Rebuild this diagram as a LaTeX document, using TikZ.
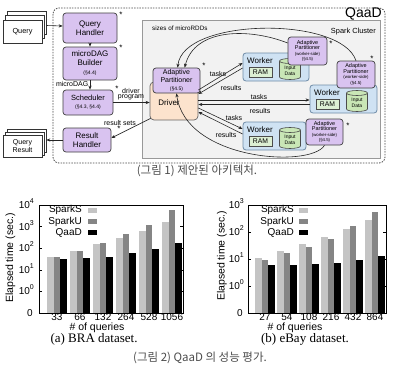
\documentclass[tikz,border=0pt]{standalone}
\usepackage{fontspec}
\setmainfont{Liberation Sans}
\newfontfamily\serifb{Liberation Serif}
\newfontfamily\kr{Noto Sans CJK KR}
\usetikzlibrary{arrows.meta,calc}
\newcommand{\fsz}[1]{\fontsize{#1}{#1}\selectfont}
\newcommand{\sups}[1]{\raisebox{0.5em}{\fsz{7}#1}}
\definecolor{purp}{HTML}{D9C3F0}
\definecolor{peach}{HTML}{FCE3CD}
\definecolor{wblue}{HTML}{CFE2F3}
\definecolor{wborder}{HTML}{6F8CA8}
\definecolor{ramg}{HTML}{DCEFD3}
\definecolor{cylg}{HTML}{C9E6B6}
\definecolor{clus}{HTML}{F2F2F2}
\definecolor{barS}{HTML}{C4C4C4}
\definecolor{barU}{HTML}{858585}
\tikzset{
 pbox/.style={draw=black!75, fill=purp, rounded corners=3pt, line width=0.7pt, inner sep=0pt, align=center},
 docb/.style={draw=black!80, fill=white, line width=0.6pt, inner sep=0pt, minimum width=39pt, minimum height=23pt},
 lbl/.style={font=\fsz{7}, inner sep=0pt},
 starn/.style={font=\fsz{8}, inner sep=0pt},
 arr/.style={-{Stealth[length=4pt,width=3.2pt]}, line width=0.6pt, draw=black!85},
 wbox/.style={draw=wborder, fill=wblue, rounded corners=3pt, line width=0.8pt, minimum height=28pt, inner sep=0pt},
 wtxt/.style={font=\fsz{8}, inner sep=0pt},
 ramb/.style={draw=black!70, fill=ramg, line width=0.6pt, minimum width=23pt, minimum height=9.5pt, inner sep=0pt, font=\fsz{6.8}},
 cyltxt/.style={inner sep=0pt, align=center, font=\fontsize{5}{5.5}\selectfont},
 cylline/.style={draw=black!70, line width=0.6pt},
 tickl/.style={font=\fsz{10}, inner sep=0pt},
 frm/.style={draw=black, line width=0.6pt},
}
\newcommand{\cyld}[3]{%
 \filldraw[cylline, fill=cylg] (#2,#3+8) ellipse [x radius=10.5pt, y radius=2.5pt];
 \fill[cylg] (#2-10.5,#3-8) rectangle (#2+10.5,#3+8);
 \draw[cylline] (#2-10.5,#3-8) -- (#2-10.5,#3+8) (#2+10.5,#3-8) -- (#2+10.5,#3+8);
 \filldraw[cylline, fill=cylg] (#2,#3-8) ellipse [x radius=10.5pt, y radius=2.5pt];
 \node[cyltxt] (#1) at (#2,#3+2) {Input\\Data};
}
\newcommand{\wkr}[4]{%
 \node[wbox, minimum width=#4 pt] (#1) at (#2+#4/2,#3+14) {};
 \node[wtxt] (#1t) at (#2+17,#3+7.5) {Worker};
 \node[ramb] (#1r) at (#2+17.5,#3+19.5) {RAM};
 \cyld{#1c}{#2+47}{#3+16}%
}
\begin{document}
\begin{tikzpicture}[x=1pt,y=-1pt]
\useasboundingbox (0,0) rectangle (400,372);
\fill[white] (0,0) rectangle (400,372);

% QaaD boundary and Spark cluster
\draw[black!70, line width=0.8pt, dash pattern=on 1.5pt off 1.2pt, rounded corners=6pt] (53,8) rectangle (385,163);
\node[font=\fsz{14}, inner sep=0pt, anchor=east] (qaad) at (382,14) {QaaD};
\node[draw=gray!80, fill=clus, line width=0.8pt, minimum width=238pt, minimum height=138pt, inner sep=0pt] (spark) at (261,89) {};
\node[font=\fsz{7.4}, inner sep=0pt, anchor=east] (sparkt) at (376,32) {Spark Cluster};
\node[font=\fsz{6.3}, inner sep=0pt, anchor=west] (sizes) at (152,28) {sizes of microRDDs};

% Query document stacks
\node[docb] (qb2) at (26.5,22.5) {};
\node[docb] (qb1) at (24.5,27) {};
\node[docb, font=\fsz{7.3}] (qd) at (22.5,31.5) {Query};
\node[docb] (qrb2) at (26.5,141) {};
\node[docb] (qrb1) at (24.5,143.5) {};
\node[docb, minimum height=22pt, align=center, font=\fontsize{7}{8}\selectfont] (qrd) at (22.5,146) {Query\\Result};

% Left column boxes
\node[pbox, minimum width=54pt, minimum height=30pt, font=\fontsize{8}{9.5}\selectfont] (qh) at (90,28) {Query\\Handler};
\node[pbox, minimum width=54pt, minimum height=33pt, font=\fontsize{8}{9}\selectfont] (mdb) at (90,63.5) {microDAG\\Builder\\{\fontsize{5}{6}\selectfont(§4.4)}};
\node[pbox, minimum width=50pt, minimum height=25pt, font=\fontsize{7.5}{8.5}\selectfont] (sch) at (88,102.5) {Scheduler\\{\fontsize{5}{6}\selectfont(§4.3, §4.4)}};
\node[pbox, minimum width=48pt, minimum height=24pt, font=\fontsize{8}{9}\selectfont] (rh) at (87,140) {Result\\Handler};
\node[starn] (st1) at (121,15) {*};
\node[starn] (st2) at (121,48) {*};
\node[starn] (st3) at (117,89) {*};
\node[starn] (st4) at (119,129) {*};

% Driver
\node[draw=black!60, fill=peach, rounded corners=4pt, line width=0.7pt, minimum width=48pt, minimum height=38pt, inner sep=0pt] (drv) at (174,101) {};
\node[font=\fsz{8}, inner sep=0pt] (drvt) at (169,102.5) {Driver};
\node[pbox, minimum width=47pt, minimum height=25pt, font=\fontsize{7}{7.6}\selectfont] (apd) at (176.5,80.5) {Adaptive\\Partitioner\\{\fontsize{5}{6}\selectfont(§4.5)}};
\node[starn] (st5) at (204,66) {*};

% Workers
\wkr{wa}{243}{53}{66}
\wkr{wb}{310}{85}{67}
\wkr{wc}{243}{122}{63}

% Worker-side partitioners
\node[pbox, minimum width=39pt, minimum height=28pt, font=\fontsize{5.5}{5.6}\selectfont] (apa) at (307.5,51) {Adaptive\\Partitioner\\{\fontsize{4.3}{5}\selectfont(worker-side)}\\{\fontsize{4.3}{5}\selectfont(§4.5)}};
\node[pbox, minimum width=38pt, minimum height=27pt, font=\fontsize{5.5}{5.6}\selectfont] (apb) at (356,74.5) {Adaptive\\Partitioner\\{\fontsize{4.3}{5}\selectfont(worker-side)}\\{\fontsize{4.3}{5}\selectfont(§4.5)}};
\node[pbox, minimum width=37pt, minimum height=26pt, font=\fontsize{5.5}{5.6}\selectfont] (apc) at (324.5,132) {Adaptive\\Partitioner\\{\fontsize{4.3}{5}\selectfont(worker-side)}\\{\fontsize{4.3}{5}\selectfont(§4.5)}};
\node[starn] (st6) at (331,44) {*};
\node[starn] (st7) at (372,59) {*};
\node[starn] (st8) at (348,126) {*};

% Left column arrows
\draw[arr] ($(qb2.east)+(0,3)$) -- ($(qh.west)+(0,-2)$);
\draw[arr] (qh) -- (mdb);
\draw[arr] (mdb.south) -- (mdb.south |- sch.north);
\node[lbl, anchor=east] (mdl) at (88.5,84) {microDAG};
\draw[arr] (sch.east) -- (sch.east -| drv.west);
\node[lbl] (dpl1) at (131,90.5) {driver};
\node[lbl] (dpl2) at (131,97.5) {program};
\draw[arr] ($(drv.south west)+(1,-2)$) -- ($(rh.east)+(0,-2)$);
\node[lbl] (rsl) at (120,123) {result sets};
\draw[arr] (rh.west) -- (rh.west -| qrb2.east);

% Driver-worker arrows
\draw[arr] ($(drv.east)+(0,-11)$) -- ($(wa.west)+(0,-4)$);
\draw[arr] ($(wa.west)+(0,1)$) -- ($(drv.east)+(0,-7)$);
\draw[arr] ($(drv.east)+(0,-1)$) -- ($(wb.west)+(0,1)$);
\draw[arr] ($(wb.west)+(0,5.5)$) -- ($(drv.east)+(0,3.5)$);
\draw[arr] ($(drv.east)+(0,7)$) -- ($(wc.west)+(0,-7)$);
\draw[arr] ($(wc.west)+(0,-2)$) -- ($(drv.east)+(0,11)$);
\node[lbl] (tl1) at (218,74) {tasks};
\node[lbl] (rl1) at (231,88) {results};
\node[lbl] (tl2) at (259,96.5) {tasks};
\node[lbl] (rl2) at (260,110.5) {results};
\node[lbl] (tl3) at (234,117.5) {tasks};
\node[lbl] (rl3) at (226,135) {results};

% microRDD size curves
\draw[arr] (apb.north) .. controls +(-15,-45) and +(5,-50) .. ($(apd.north west)+(25,0)$);
\draw[arr] ($(apa.west)+(0,-8)$) .. controls +(-38,-15) and +(10,-40) .. ($(apd.north west)+(32,0)$);
\draw[arr] (apc.south) .. controls +(-14,23) and +(9,67) .. (apd.south);

% ---------- Chart (a) ----------
\draw[frm] (39,205) rectangle (183,313);
\foreach \yy in {226.6,248.2,269.8,291.4} {\draw[frm] (39,\yy) -- ++(3,0); \draw[frm] (183,\yy) -- ++(-3,0);}
\node[tickl, anchor=base east] (ya4) at (34,208.5) {10\sups{4}};
\node[tickl, anchor=base east] (ya3) at (34,230.1) {10\sups{3}};
\node[tickl, anchor=base east] (ya2) at (34,251.7) {10\sups{2}};
\node[tickl, anchor=base east] (ya1) at (34,273.3) {10\sups{1}};
\node[tickl, anchor=base east] (ya0) at (34,294.9) {10\sups{0}};
\node[tickl, anchor=base east] (yaz) at (33,316.5) {0};
\foreach \i/\s/\u/\q/\l in {0/257/257/259/33, 1/251/251/258/66, 2/244/243/257/132, 3/237.7/234/253/264, 4/231/225/249/528, 5/221.7/210/243/1056} {
 \pgfmathsetmacro\cx{57+23*\i}
 \fill[barS] (\cx-10,313) rectangle (\cx-3.33,\s);
 \fill[barU] (\cx-3.33,313) rectangle (\cx+3.33,\u);
 \fill[black] (\cx+3.33,313) rectangle (\cx+10,\q);
 \node[tickl] at (\cx,317.5) {\l};
}
\node[tickl, anchor=east] (lsa) at (82,210) {SparkS};
\node[tickl, anchor=east] (lua) at (82,221.5) {SparkU};
\node[tickl, anchor=east] (lqa) at (82,232.5) {QaaD};
\fill[barS] (88,207.5) rectangle (97,212.5);
\fill[barU] (88,219) rectangle (97,224);
\fill[black] (88,230) rectangle (97,235);
\node[rotate=90, font=\fsz{10.5}, inner sep=0pt] (yla) at (10.5,258) {Elapsed time (sec.)};
\node[font=\fsz{10.5}, inner sep=0pt] (xla) at (97,327.5) {\# of queries};
\node[font=\serifb\fsz{13}, inner sep=0pt] (capa) at (94,339) {(a) BRA dataset.};

% ---------- Chart (b) ----------
\draw[frm] (248,205) rectangle (386,313);
\foreach \yy in {232,259,286} {\draw[frm] (248,\yy) -- ++(3,0); \draw[frm] (386,\yy) -- ++(-3,0);}
\node[tickl, anchor=base east] (yb3) at (244,208.5) {10\sups{3}};
\node[tickl, anchor=base east] (yb2) at (244,235.5) {10\sups{2}};
\node[tickl, anchor=base east] (yb1) at (244,262.5) {10\sups{1}};
\node[tickl, anchor=base east] (yb0) at (244,289.5) {10\sups{0}};
\node[tickl, anchor=base east] (ybz) at (243,316.5) {0};
\foreach \i/\s/\u/\q/\l in {0/257.7/260/265.3/27, 1/251/253.3/265/54, 2/244.3/246.7/264.3/108, 3/236.7/239.3/262.7/216, 4/229/226/260/432, 5/220/212.3/256/864} {
 \pgfmathsetmacro\cx{265+22*\i}
 \fill[barS] (\cx-10,313) rectangle (\cx-3.33,\s);
 \fill[barU] (\cx-3.33,313) rectangle (\cx+3.33,\u);
 \fill[black] (\cx+3.33,313) rectangle (\cx+10,\q);
 \node[tickl] at (\cx,317.5) {\l};
}
\node[tickl, anchor=east] (lsb) at (294,210) {SparkS};
\node[tickl, anchor=east] (lub) at (294,221.5) {SparkU};
\node[tickl, anchor=east] (lqb) at (294,232.5) {QaaD};
\fill[barS] (299,207.5) rectangle (308,212.5);
\fill[barU] (299,219) rectangle (308,224);
\fill[black] (299,230) rectangle (308,235);
\node[rotate=90, font=\fsz{10.5}, inner sep=0pt] (ylb) at (222,256) {Elapsed time (sec.)};
\node[font=\fsz{10.5}, inner sep=0pt] (xlb) at (295,327.5) {\# of queries};
\node[font=\serifb\fsz{13}, inner sep=0pt] (capb) at (305,339) {(b) eBay dataset.};

% Captions
\node[font=\kr\fsz{11.5}, text=black!70, inner sep=0pt] (cap1) at (197,171) {(그림 1) 제안된 아키텍처.};
\node[font=\kr\fsz{11.5}, text=black!70, inner sep=0pt] (cap2) at (200,358) {(그림 2) QaaD 의 성능 평가.};
\end{tikzpicture}
\end{document}
